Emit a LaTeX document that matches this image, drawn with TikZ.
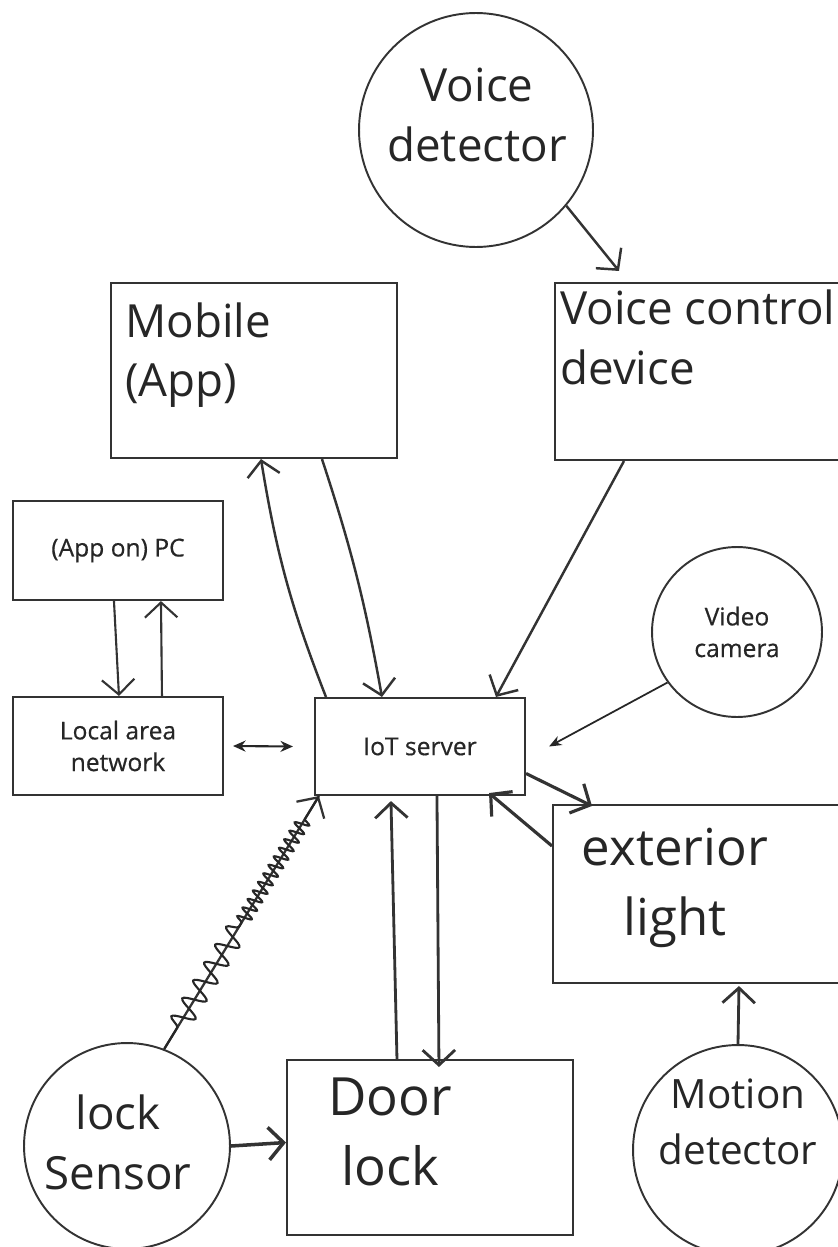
\documentclass[tikz,border=0pt]{standalone}
\usepackage{fontspec}
\setmainfont{Open Sans}
\newfontfamily\printfont{Open Sans}[FakeBold=0.5]
\usetikzlibrary{shapes.geometric, arrows.meta, decorations.pathmorphing}

\begin{document}
\begin{tikzpicture}[x=0.02cm, y=-0.02cm]
  \tikzstyle{box} = [rectangle, draw=black!80, line width=1.2pt, align=center, inner sep=0pt]
  \tikzstyle{sensor} = [circle, draw=black!80, line width=1.1pt, align=center, inner sep=0pt]
  \tikzstyle{printed} = [font=\printfont\fontsize{14}{18}\selectfont, text=black!85]
  \tikzstyle{hand} = [align=center, inner sep=0pt, font=\fontsize{26}{34}\selectfont, text=black!85]
  \tikzstyle{connector} = [line width=1.4pt, draw=black!80, -{Straight Barb[length=0.3cm, width=0.65cm]}]
  \tikzstyle{wire} = [line width=1.2pt, draw=black!85]

  \useasboundingbox (0,0) rectangle (838,1247);

  % Top: voice input and mobile
  \node (voicedet) at (476,130) [sensor, minimum size=4.68cm] {};
  \node (mobile) at (254,370.5) [box, minimum width=5.72cm, minimum height=3.5cm] {};
  \node (voicedev) at (700,371.5) [box, minimum width=5.8cm, minimum height=3.54cm] {};

  % Middle: PC, network, server, camera
  \node (pc) at (118,550.5) [box, printed, minimum width=4.2cm, minimum height=1.98cm] {(App on) PC};
  \node (lan) at (118,746) [box, printed, minimum width=4.2cm, minimum height=1.96cm] {Local area\\network};
  \node (iot) at (420,746.5) [box, printed, minimum width=4.2cm, minimum height=1.94cm] {IoT server};
  \node (camera) at (737,632) [sensor, printed, minimum size=3.4cm] {Video\\camera};
  \node (light) at (699,894) [box, minimum width=5.84cm, minimum height=3.56cm] {};

  % Bottom: lock and motion
  \node (locksens) at (127,1146) [sensor, minimum size=4.12cm] {};
  \node (door) at (430,1147.5) [box, minimum width=5.72cm, minimum height=3.5cm] {};
  \node (motion) at (738,1150) [sensor, minimum size=4.2cm] {};

  % Handwritten labels
  \node (voicedettxt) at (477,115) [hand] {Voice\\detector};
  \node (mobiletxt) at (125,355) [hand, anchor=west, align=left] {Mobile\\(App)};
  \node (voicedevtxt) at (560,337) [hand, anchor=west, align=left] {Voice control\\device};
  \node (lighttxt) at (675,888) [hand, font=\fontsize{29}{40}\selectfont] {exterior\\light};
  \node (doortxt) at (390,1132) [hand, font=\fontsize{30}{40}\selectfont] {Door\\lock};
  \node (locksenstxt) at (118,1142) [hand] {lock\\Sensor};
  \node (motiontxt) at (738,1122) [hand, font=\fontsize{23}{32}\selectfont] {Motion\\detector};

  % Arrows
  \draw[connector] (voicedet.-40) -- ([shift={(65,-11)}]voicedev.north west);
  \draw[connector] ([shift={(12,0)}]iot.north west) to[bend left=6] ([shift={(151,0)}]mobile.south west);
  \draw[connector] ([shift={(212,0)}]mobile.south west) to[bend left=4] ([shift={(68,0)}]iot.north west);
  \draw[connector] ([shift={(70,0)}]voicedev.south west) -- ([shift={(182,0)}]iot.north west);
  \draw[connector, line width=1.2pt] ([shift={(102,0)}]pc.south west) -- ([shift={(107,0)}]lan.north west);
  \draw[connector, line width=1.2pt] ([shift={(150,0)}]lan.north west) -- ([shift={(149,0)}]pc.south west);
  \draw[wire, {Stealth[length=0.25cm, width=0.22cm]}-{Stealth[length=0.25cm, width=0.22cm]}] ([shift={(9,0)}]lan.east) -- ([shift={(-21,0)}]iot.west);
  \draw[wire, line width=1pt, -{Stealth[length=0.25cm, width=0.2cm]}] (camera.216) -- ([shift={(23,0)}]iot.east);
  \draw[connector, line width=1.8pt] ([shift={(0,27)}]iot.east) -- ([shift={(40,2)}]light.north west);
  \draw[connector, line width=1.8pt] ([shift={(0,42)}]light.north west) -- ([shift={(-37,-3)}]iot.south east);
  \draw[connector, line width=1.6pt] ([shift={(111,0)}]door.north west) -- ([shift={(77,5)}]iot.south west);
  \draw[connector, line width=1.6pt] ([shift={(123,0)}]iot.south west) -- ([shift={(153,8)}]door.north west);
  \draw[connector, line width=1.6pt] (motion.north) -- ([shift={(187,2)}]light.south west);
  \draw[connector, line width=2pt] (locksens.east) -- ([shift={(0,-5)}]door.west);

  % Wireless link from lock sensor
  \draw[connector, line width=1.3pt] (locksens.69) -- ([shift={(5,0)}]iot.south west)
    coordinate[pos=0.5] (zigmid);
  \draw[wire, decorate, decoration={snake, amplitude=0.22cm, segment length=0.42cm, pre length=0.5cm}] (locksens.69) -- (zigmid);
  \draw[wire, decorate, decoration={snake, amplitude=0.14cm, segment length=0.2cm, post length=0.5cm}] (zigmid) -- ([shift={(5,0)}]iot.south west);
\end{tikzpicture}
\end{document}
